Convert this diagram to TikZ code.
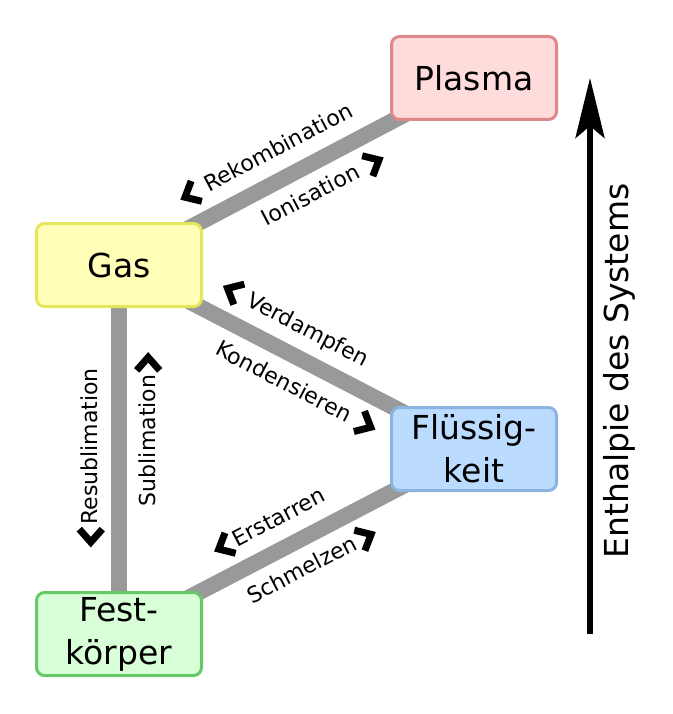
\documentclass[tikz,border=0pt]{standalone}
\usepackage{fontspec}
\setmainfont{DejaVu Sans}
\usetikzlibrary{positioning,arrows.meta,backgrounds}

\definecolor{plasmafill}{HTML}{FFDCDC}
\definecolor{plasmaline}{HTML}{DE8888}
\definecolor{gasfill}{HTML}{FFFFB8}
\definecolor{gasline}{HTML}{E6E65C}
\definecolor{fluidfill}{HTML}{BCDCFF}
\definecolor{fluidline}{HTML}{8CB4E0}
\definecolor{solidfill}{HTML}{D8FFD8}
\definecolor{solidline}{HTML}{66C866}
\definecolor{linkgray}{HTML}{999999}

% heavy chevrons for the direction of a transition
\newcommand{\backchev}{\tikz[baseline=-7pt]\draw[line width=7pt,miter limit=3] (13pt,-11.5pt) -- (0pt,0pt) -- (13pt,11.5pt);}
\newcommand{\forechev}{\tikz[baseline=-7pt]\draw[line width=7pt,miter limit=3] (0pt,-11.5pt) -- (13pt,0pt) -- (0pt,11.5pt);}

\begin{document}
\begin{tikzpicture}[x=1pt,y=-1pt,
		state/.style={draw,line width=3pt,rounded corners=8pt,minimum width=165pt,minimum height=83pt,inner sep=0pt,align=center,font=\fontsize{33}{43}\selectfont},
		link/.style={draw=linkgray,line width=16pt},
		trans/.style={sloped,inner sep=0pt,font=\fontsize{22}{26}\selectfont}]
		\useasboundingbox (0,0) rectangle (672,714);

		\node[state,draw=gasline,fill=gasfill]											(gas)		at (119,265) {Gas};
		\node[state,draw=plasmaline,fill=plasmafill,right=187pt of gas,yshift=187pt]	(plasma)	{Plasma};
		\node[state,draw=fluidline,fill=fluidfill,right=187pt of gas,yshift=-184pt]	(fluid)		{Flüssig-\\keit};
		\node[state,draw=solidline,fill=solidfill,below=283pt of gas]					(solid)		{Fest-\\körper};

		\begin{scope}[on background layer]
			\draw[link] (gas.center) -- node[trans,above=14pt,pos=0.454] {\backchev\ Rekombination} node[trans,below=13pt,pos=0.537] {Ionisation \forechev} (plasma.center);
			\draw[link] (gas.center) -- node[trans,above=14pt,pos=0.46] {\backchev\ Verdampfen} node[trans,below=13pt,pos=0.534] {Kondensieren \forechev} (fluid.center);
			\draw[link] (solid.center) -- node[trans,above=13pt,pos=0.48] {\backchev\kern1pt Resublimation} node[trans,below=14pt,pos=0.553] {Sublimation\kern1pt\forechev} (gas.center);
			\draw[link] (solid.center) -- node[trans,above=14pt,pos=0.463] {\backchev\kern1pt Erstarren} node[trans,below=13pt,pos=0.506] {Schmelzen\kern1pt\forechev} (fluid.center);
		\end{scope}

		\coordinate (low) at (590,634);
		\coordinate (high) at (590,78);
		\draw[line width=5.5pt,-{Stealth[length=60pt,width=29pt,inset=12pt]}] (low) -- node[sloped,below=11pt,pos=0.473,font=\fontsize{33}{40}\selectfont,inner sep=0pt] {Enthalpie des Systems} (high);
	\end{tikzpicture}
\end{document}
